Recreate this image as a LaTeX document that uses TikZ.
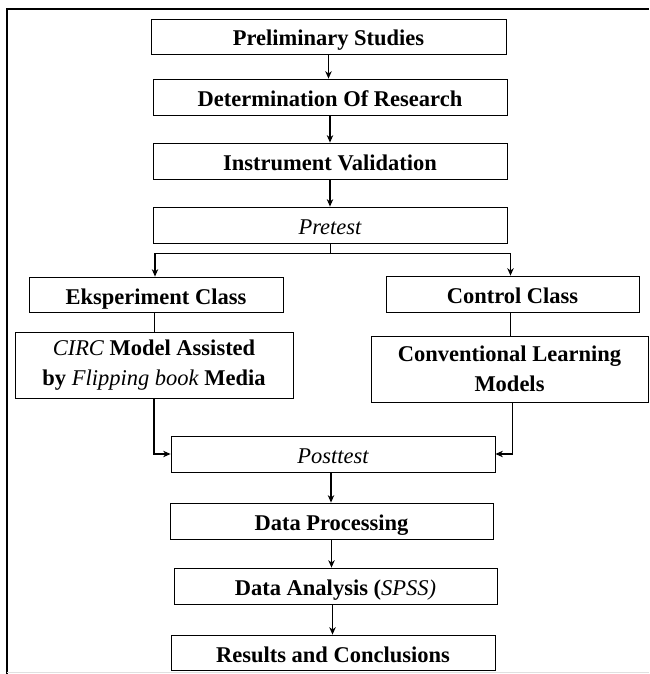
\documentclass[tikz,border=0pt]{standalone}
\usepackage{fontspec}
\setmainfont{Liberation Serif}
\usetikzlibrary{arrows.meta}
\begin{document}
\begin{tikzpicture}[x=1pt,y=-1pt,
	box/.style={draw, line width=0.8pt, inner sep=2pt, align=center,
		font=\fontsize{22.5}{30}\selectfont\bfseries},
	onebox/.style={box, text height=19pt, text depth=0pt},
	arr/.style={-{Stealth[length=7.5pt,width=6.5pt]}, line width=1.1pt},
	link/.style={line width=0.9pt}]
		\useasboundingbox (0,0) rectangle (649,674);
		%draw frame
		\draw [line width=2.4pt] (7,674) -- (7,9) -- (649,9);
		\draw [black!12, line width=1pt] (7,672.5) -- (649,672.5);
		%draw boxes
		\node[onebox, minimum width=355pt, minimum height=35pt] (prelim) at (328.5,36.5) {Preliminary Studies};
		\node[onebox, minimum width=354pt, minimum height=36pt] (determ) at (330,97) {Determination Of Research};
		\node[onebox, minimum width=354pt, minimum height=36pt] (valid) at (330,161) {Instrument Validation};
		\node[onebox, minimum width=354pt, minimum height=36pt] (pretest) at (330,225) {\mdseries\itshape Pretest};
		\node[onebox, minimum width=254pt, minimum height=35pt] (eksp) at (156,294.5) {Eksperiment Class};
		\node[onebox, minimum width=253pt, minimum height=36pt] (control) at (512.5,294) {Control Class};
		\node[box, minimum width=278pt, minimum height=66pt] (circ) at (154,365)
			{{\mdseries\itshape CIRC} Model Assisted\\by {\mdseries\itshape Flipping book} Media};
		\node[box, minimum width=277pt, minimum height=66pt] (conv) at (509.5,369)
			{Conventional Learning\\Models};
		\node[onebox, minimum width=324pt, minimum height=36pt] (posttest) at (333,454) {\mdseries\itshape Posttest};
		\node[onebox, minimum width=323pt, minimum height=36pt] (process) at (331.5,521) {Data Processing};
		\node[onebox, minimum width=323pt, minimum height=36pt] (analysis) at (335.5,586)
			{Data Analysis ({\mdseries\itshape SPSS)}};
		\node[onebox, minimum width=324pt, minimum height=35pt] (results) at (333,652.5) {Results and Conclusions};
		%draw arrows
		\draw[arr] (prelim.south) -- (prelim.south |- determ.north);
		\draw[arr] (determ.south) -- (determ.south |- valid.north);
		\draw[arr] (valid.south) -- (valid.south |- pretest.north);
		\coordinate (split) at ([yshift=-10pt]pretest.south);
		\draw[link] (pretest.south) -- (split);
		\draw[arr] (split) -| ([xshift=-1pt]eksp.north);
		\draw[arr] (split) -| ([xshift=-2pt]control.north);
		\draw[link] ([xshift=-2pt]eksp.south) -- ([xshift=-2pt]eksp.south |- circ.north);
		\draw[link] ([xshift=-2pt]control.south) -- ([xshift=-2pt]control.south |- conv.north);
		\draw[arr] (circ.south) |- (posttest.west);
		\draw[arr] ([xshift=3pt]conv.south) |- (posttest.east);
		\draw[arr] ([xshift=-2pt]posttest.south) -- ([xshift=-2pt]posttest.south |- process.north);
		\draw[arr] (process.south) -- (process.south |- analysis.north);
		\draw[arr] ([xshift=-3pt]analysis.south) -- ([xshift=-3pt]analysis.south |- results.north);
\end{tikzpicture}
\end{document}
